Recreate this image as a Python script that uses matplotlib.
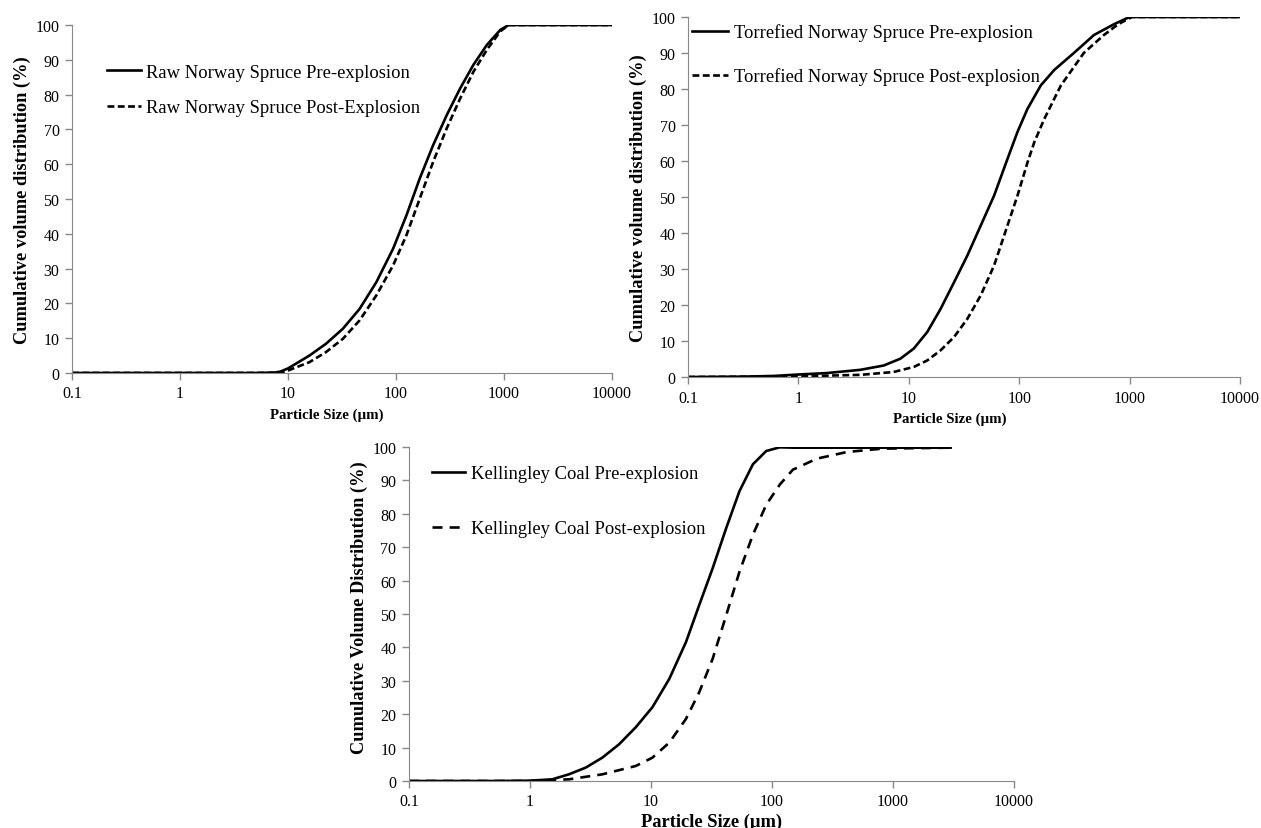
import matplotlib.pyplot as plt

plt.rcParams['font.family'] = ['Liberation Serif', 'DejaVu Serif']

# Raw Norway Spruce (particle size in um, cumulative %)
raw_pre_x = [0.1, 1, 5, 7.5, 8.5, 10, 15.8, 22.5, 32.2, 46, 65.8, 94, 125, 166, 221, 295, 393,
             522, 695, 925, 1105, 10000]
raw_pre_y = [0, 0, 0, 0.1, 0.4, 1.3, 5.0, 8.4, 12.7, 18.4, 26.1, 35.7, 45.3, 55.9, 65.5, 74.1, 81.8,
             88.6, 94.3, 98.6, 100, 100]
raw_post_x = [0.1, 1, 5, 8.5, 10, 15.8, 22.5, 32.2, 46, 65.8, 94, 125, 166, 221, 295, 393,
              522, 695, 925, 1105, 10000]
raw_post_y = [0, 0, 0, 0.1, 0.7, 3.1, 6.0, 9.8, 15.1, 22.3, 30.9, 39.6, 50.1, 60.7, 70.3, 78.9,
              86.6, 92.9, 98.2, 100, 100]

# Torrefied Norway Spruce
tor_pre_x = [0.1, 0.3, 0.6, 1, 1.81, 3.64, 5.93, 8.4, 11.1, 14.7, 19.4, 25.7, 34, 44.9, 59.3, 78.4,
             96.6, 119, 157, 208, 313, 476, 724, 1000, 10000]
tor_pre_y = [0, 0.1, 0.3, 0.7, 1.1, 2.0, 3.2, 5.1, 7.9, 12.5, 18.9, 26.3, 33.8, 42.1, 50.4, 60.6,
             68.1, 74.5, 81.0, 85.3, 90, 95, 98, 100, 100]
tor_post_x = [0.1, 0.5, 1, 3.64, 7.3, 11.1, 14.7, 19.4, 25.7, 34, 44.9, 59.3, 78.4, 96.6, 119, 137,
              169, 208, 239, 385, 586, 790, 1050, 10000]
tor_post_y = [0, 0.1, 0.2, 0.6, 1.4, 2.8, 4.6, 7.4, 11.1, 16.2, 22.7, 31.0, 42.1, 50.4, 59.6, 65.2,
              71.7, 77.3, 81.0, 90, 95, 98, 100, 100]

# Kellingley Coal
coal_pre_x = [0.1, 0.5, 1, 1.53, 2.1, 2.89, 3.97, 5.46, 7.5, 10.3, 14.2, 19.5, 25.1, 32.4, 41.9, 54,
              69.6, 89.8, 116, 150, 3000]
coal_pre_y = [0, 0, 0.1, 0.5, 2.0, 4.0, 7.0, 11.0, 16.1, 22.1, 30.6, 41.6, 52.7, 63.7, 75.7, 86.8,
              94.8, 98.8, 99.9, 99.8, 99.8]
coal_post_x = [0.1, 0.5, 1, 2.1, 3.97, 7.5, 10.3, 14.2, 19.5, 25.1, 32.4, 41.9, 54, 69.6, 89.8, 116,
               149, 235, 417, 810, 3000]
coal_post_y = [0, 0, 0, 0.5, 2.0, 4.5, 7.0, 11.5, 18.6, 26.6, 36.6, 49.6, 62.7, 73.7, 82.7, 88.7,
               93.2, 96.5, 98.5, 99.5, 99.8]

xticks = [0.1, 1, 10, 100, 1000, 10000]
xticklabels = ['0.1', '1', '10', '100', '1000', '10000']

fig = plt.figure(figsize=(12.61, 8.29), dpi=100)
ax1 = fig.add_axes([0.0571, 0.5489, 0.4282, 0.4197])
ax2 = fig.add_axes([0.5456, 0.5440, 0.4377, 0.4343])
ax3 = fig.add_axes([0.3243, 0.0567, 0.4797, 0.4029])

lw = 1.9
short_dash = (0, (2.6, 1.3))
long_dash = (0, (3.8, 2.7))
ax1.plot(raw_pre_x, raw_pre_y, color='black', lw=lw, label='Raw Norway Spruce Pre-explosion')
ax1.plot(raw_post_x, raw_post_y, color='black', lw=lw, ls=short_dash, label='Raw Norway Spruce Post-Explosion')
ax2.plot(tor_pre_x, tor_pre_y, color='black', lw=lw, label='Torrefied Norway Spruce Pre-explosion')
ax2.plot(tor_post_x, tor_post_y, color='black', lw=lw, ls=short_dash, label='Torrefied Norway Spruce Post-explosion')
ax3.plot(coal_pre_x, coal_pre_y, color='black', lw=lw, label='Kellingley Coal Pre-explosion')
ax3.plot(coal_post_x, coal_post_y, color='black', lw=lw, ls=long_dash, label='Kellingley Coal Post-explosion')

ylabels = ['Cumulative volume distribution (%)', 'Cumulative volume distribution (%)',
           'Cumulative Volume Distribution (%)']
xlabel_sizes = [10.7, 10.7, 13.3]
for ax, yl, xs in zip([ax1, ax2, ax3], ylabels, xlabel_sizes):
    ax.set_xscale('log')
    ax.set_xlim(0.1, 10000)
    ax.set_ylim(0, 100)
    ax.set_xticks(xticks)
    ax.set_xticklabels(xticklabels)
    ax.minorticks_off()
    ax.set_yticks(range(0, 101, 10))
    ax.tick_params(labelsize=11.5, color='#888888', length=5, width=1, direction='out', pad=4)
    for s in ['top', 'right']:
        ax.spines[s].set_visible(False)
    for s in ['left', 'bottom']:
        ax.spines[s].set_color('#888888')
    ax.set_xlabel('Particle Size (µm)', fontsize=xs, fontweight='bold', labelpad=4)
    ax.set_ylabel(yl, fontsize=13.2, fontweight='bold', labelpad=3)

# the x titles of the top two panels sit a little left of centre
ax1.xaxis.label.set_x(0.472)
ax2.xaxis.label.set_x(0.475)
ax3.xaxis.label.set_y(0.522)
ax3.yaxis.label.set_y(0.522)
ax3.set_xlabel('Particle Size (µm)', fontsize=13.3, fontweight='bold', labelpad=2)

leg_kw = dict(loc='upper left', frameon=False, fontsize=13.4, handletextpad=0.3,
              borderpad=0, borderaxespad=0)
ax1.legend(bbox_to_anchor=(0.065, 0.889), handlelength=1.8, labelspacing=1.0, **leg_kw)
ax2.legend(bbox_to_anchor=(0.007, 0.982), handlelength=1.95, labelspacing=1.41, **leg_kw)
ax3.legend(bbox_to_anchor=(0.038, 0.945), handlelength=1.8, labelspacing=2.03, **leg_kw)

fig.savefig('out.png', dpi=100)
